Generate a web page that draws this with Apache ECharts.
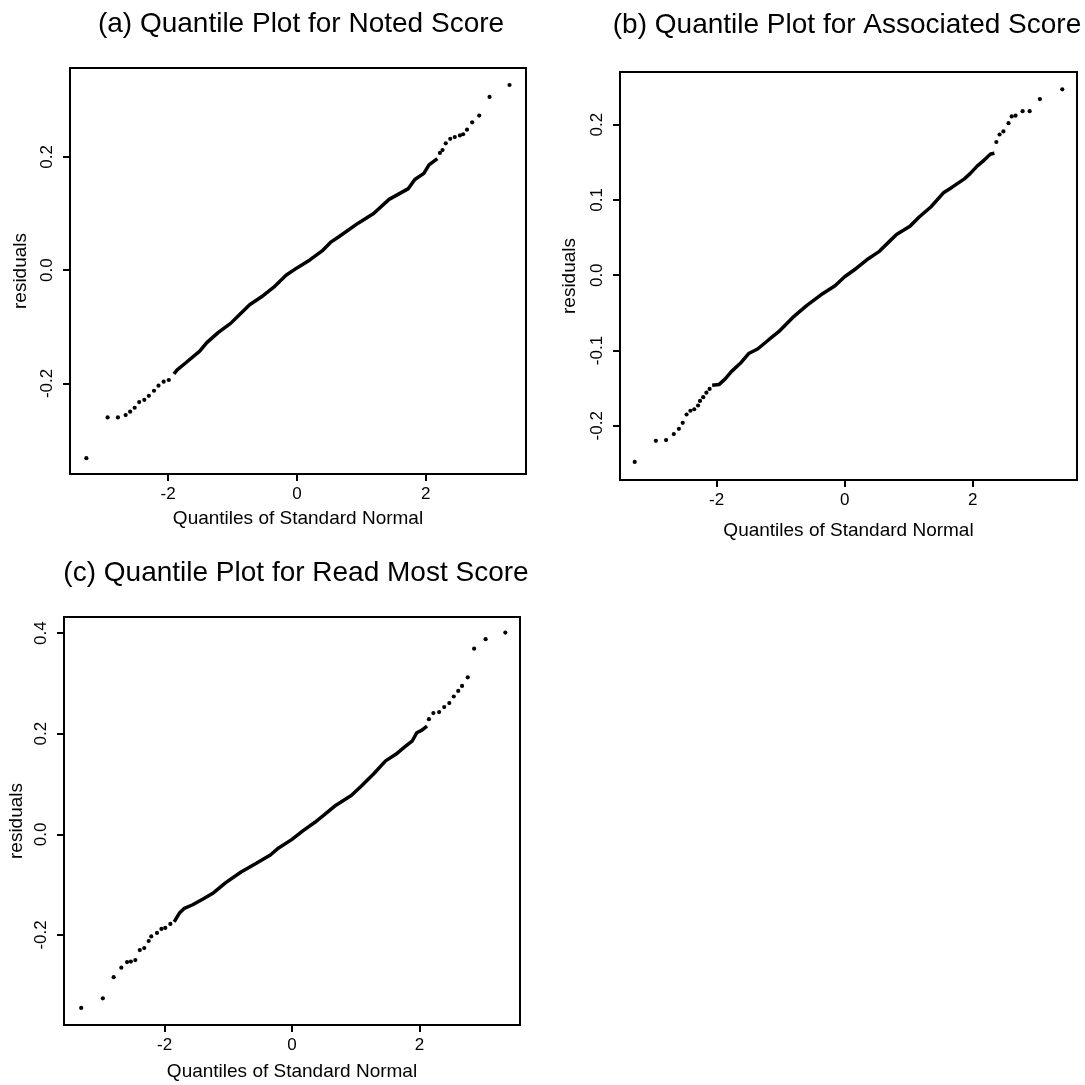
<!DOCTYPE html>
<html>
<head>
<meta charset="utf-8">
<script src="https://cdn.jsdelivr.net/npm/echarts@6/dist/echarts.min.js"></script>
<style>
  html, body { margin: 0; padding: 0; background: #fff; }
  #chart { width: 1085px; height: 1085px; }
</style>
</head>
<body>
<div id="chart"></div>
<script>
// ---- Tick values ----
const ticksX = [-2, 0, 2];
const ticksYA = [-0.2, 0.0, 0.2];
const ticksYB = [-0.2, -0.1, 0.0, 0.1, 0.2];
const ticksYC = [-0.2, 0.0, 0.2, 0.4];

// ---- Titles ----
const titles = [
  '(a) Quantile Plot for Noted Score',
  '(b) Quantile Plot for Associated Score',
  '(c) Quantile Plot for Read Most Score'
];
const xName = 'Quantiles of Standard Normal';
const yName = 'residuals';

// ---- Panel (a): individual tail points and dense band [quantile, residual] ----
const dotsA = [
  [-3.27,-0.332],[-2.94,-0.260],[-2.78,-0.260],[-2.66,-0.256],[-2.59,-0.250],
  [-2.52,-0.243],[-2.45,-0.233],[-2.37,-0.229],[-2.30,-0.222],[-2.22,-0.213],
  [-2.15,-0.204],[-2.07,-0.197],[-1.99,-0.194],
  [2.22,0.207],[2.26,0.212],[2.31,0.224],[2.38,0.232],[2.45,0.235],[2.53,0.238],
  [2.58,0.240],[2.64,0.248],[2.72,0.261],[2.83,0.273],[2.99,0.306],[3.30,0.327]
];
const bandA = [
  [-1.91,-0.183],[-1.86,-0.176],[-1.73,-0.164],[-1.51,-0.143],[-1.40,-0.128],
  [-1.22,-0.110],[-1.03,-0.094],[-0.87,-0.076],[-0.735,-0.061],[-0.55,-0.047],
  [-0.36,-0.030],[-0.17,-0.009],[0.0,0.004],[0.20,0.018],[0.39,0.034],
  [0.52,0.049],[0.65,0.059],[0.95,0.083],[1.19,0.100],[1.43,0.125],
  [1.73,0.144],[1.83,0.160],[1.97,0.171],[2.05,0.186],[2.18,0.197]
];

// ---- Panel (b) ----
const dotsB = [
  [-3.28,-0.248],[-2.95,-0.220],[-2.79,-0.219],[-2.67,-0.211],[-2.59,-0.204],
  [-2.53,-0.196],[-2.47,-0.185],[-2.41,-0.180],[-2.35,-0.178],[-2.29,-0.173],
  [-2.26,-0.167],[-2.21,-0.162],[-2.16,-0.156],[-2.11,-0.151],
  [2.37,0.177],[2.42,0.187],[2.48,0.191],[2.56,0.202],[2.61,0.211],
  [2.67,0.212],[2.78,0.218],[2.89,0.218],[3.05,0.234],[3.40,0.247]
];
const bandB = [
  [-2.07,-0.146],[-1.96,-0.145],[-1.87,-0.138],[-1.77,-0.128],[-1.63,-0.117],
  [-1.50,-0.104],[-1.36,-0.098],[-1.19,-0.086],[-1.03,-0.075],[-0.81,-0.056],
  [-0.59,-0.040],[-0.37,-0.026],[-0.15,-0.014],[0.0,-0.002],[0.18,0.009],
  [0.37,0.022],[0.53,0.031],[0.70,0.045],[0.81,0.054],[1.02,0.065],
  [1.16,0.077],[1.35,0.091],[1.55,0.110],[1.68,0.117],[1.87,0.128],
  [1.96,0.135],[2.07,0.145],[2.18,0.153],[2.28,0.161],[2.34,0.162]
];

// ---- Panel (c) ----
const dotsC = [
  [-3.31,-0.345],[-2.97,-0.326],[-2.80,-0.284],[-2.68,-0.265],[-2.59,-0.254],
  [-2.53,-0.253],[-2.46,-0.250],[-2.39,-0.230],[-2.32,-0.226],[-2.25,-0.212],
  [-2.21,-0.203],[-2.12,-0.196],[-2.05,-0.188],[-1.99,-0.186],[-1.91,-0.178],
  [2.15,0.229],[2.22,0.241],[2.31,0.243],[2.39,0.253],[2.47,0.261],[2.54,0.274],
  [2.61,0.285],[2.67,0.295],[2.76,0.312],[2.86,0.369],[3.04,0.388],[3.35,0.401]
];
const bandC = [
  [-1.85,-0.174],[-1.77,-0.157],[-1.69,-0.147],[-1.56,-0.140],[-1.39,-0.128],
  [-1.23,-0.116],[-1.04,-0.096],[-0.80,-0.075],[-0.58,-0.059],[-0.34,-0.041],
  [-0.21,-0.027],[0.0,-0.010],[0.17,0.007],[0.36,0.024],[0.50,0.038],
  [0.69,0.058],[0.93,0.077],[1.09,0.096],[1.28,0.120],[1.47,0.146],
  [1.63,0.159],[1.77,0.174],[1.89,0.186],[1.96,0.202],[2.04,0.207],[2.12,0.215]
];

// ---- Build chart ----
const FONT = '"Liberation Sans", Arial, Helvetica, sans-serif';
const INK = '#000';

const panels = [
  { grid: {left: 70, top: 68, width: 456, height: 406}, xr: [-3.524, 3.556], yr: [-0.360, 0.357],
    yt: ticksYA, title: {x: 301, y: 10}, xGap: 35, yGap: 40, dots: dotsA, band: bandA },
  { grid: {left: 620, top: 72, width: 457, height: 408}, xr: [-3.51, 3.63], yr: [-0.272, 0.270],
    yt: ticksYB, title: {x: 847, y: 11}, xGap: 41, yGap: 41, dots: dotsB, band: bandB },
  { grid: {left: 64, top: 617, width: 456, height: 408}, xr: [-3.58, 3.58], yr: [-0.379, 0.432],
    yt: ticksYC, title: {x: 296, y: 559}, xGap: 37, yGap: 38, dots: dotsC, band: bandC }
];

const option = {
  animation: false,
  backgroundColor: '#fff',
  title: panels.map((p, i) => ({
    text: titles[i], left: p.title.x, top: p.title.y, textAlign: 'center', padding: 0,
    textStyle: { fontFamily: FONT, fontSize: 28, fontWeight: 'normal', color: INK }
  })),
  grid: panels.map(p => Object.assign({ show: true, borderColor: INK, borderWidth: 2, backgroundColor: 'transparent' }, p.grid)),
  xAxis: panels.map((p, i) => ({
    gridIndex: i, type: 'value', min: p.xr[0], max: p.xr[1],
    splitLine: { show: false },
    axisLine: { show: false, onZero: false },
    axisTick: { show: true, length: 7, lineStyle: { color: INK, width: 2 }, customValues: ticksX },
    axisLabel: { customValues: ticksX, fontFamily: FONT, fontSize: 17, color: INK, margin: 12,
                 formatter: v => String(v) },
    name: xName, nameLocation: 'middle', nameGap: p.xGap,
    nameTextStyle: { fontFamily: FONT, fontSize: 19, color: INK }
  })),
  yAxis: panels.map((p, i) => ({
    gridIndex: i, type: 'value', min: p.yr[0], max: p.yr[1],
    splitLine: { show: false },
    axisLine: { show: false, onZero: false },
    axisTick: { show: true, length: 7, lineStyle: { color: INK, width: 2 }, customValues: p.yt },
    axisLabel: { customValues: p.yt, rotate: 90, fontFamily: FONT, fontSize: 17, color: INK, margin: 14,
                 formatter: v => Number(v).toFixed(1) },
    name: yName, nameLocation: 'middle', nameGap: p.yGap,
    nameTextStyle: { fontFamily: FONT, fontSize: 19, color: INK }
  })),
  series: panels.flatMap((p, i) => ([
    { type: 'line', xAxisIndex: i, yAxisIndex: i, data: p.band, showSymbol: false, silent: true,
      lineStyle: { color: INK, width: 3.5 } },
    { type: 'scatter', xAxisIndex: i, yAxisIndex: i, data: p.dots, symbol: 'circle', symbolSize: 4.2,
      silent: true, itemStyle: { color: INK, opacity: 1 } }
  ]))
};

const chart = echarts.init(document.getElementById('chart'), null, { renderer: 'canvas' });
chart.setOption(option);
</script>
</body>
</html>
